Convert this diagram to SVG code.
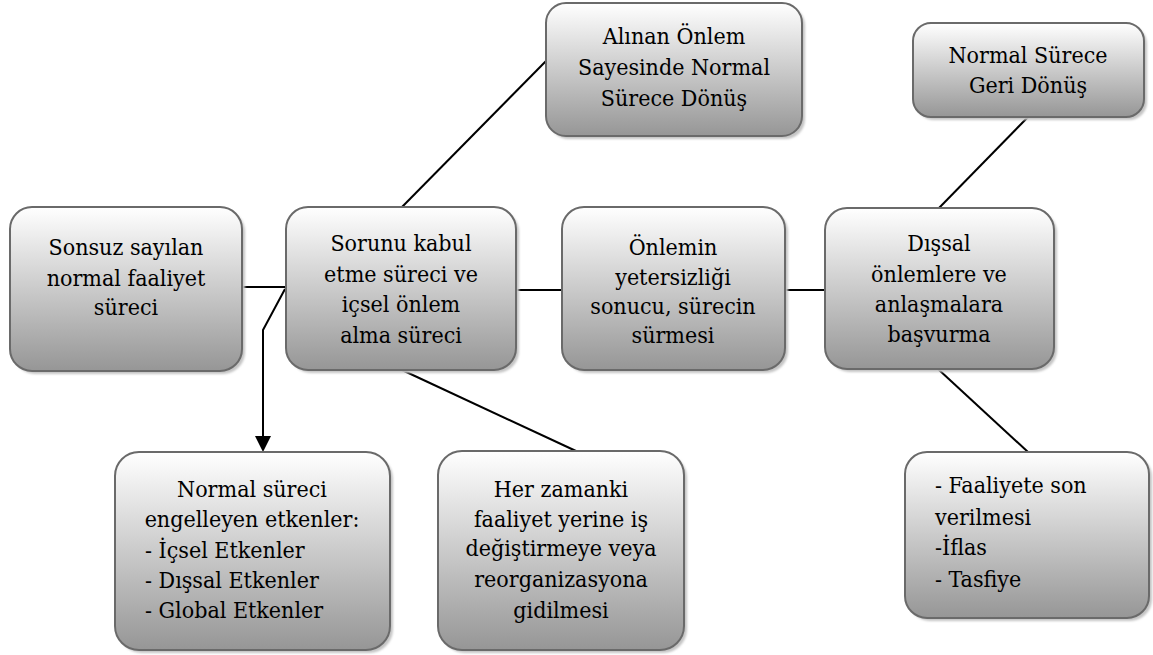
<svg xmlns="http://www.w3.org/2000/svg" width="1153" height="655" viewBox="0 0 1153 655">
<style>
.box{fill:url(#g);stroke:#6a6a6a;stroke-width:2}
.sh{fill:#c4c4c4;filter:url(#b)}
.t text{font-family:'DejaVu Serif Condensed','DejaVu Serif',serif;font-stretch:condensed;font-size:23px;fill:#000}
.c{text-anchor:middle}
.ln{stroke:#000;stroke-width:2;fill:none}
</style>
<defs>
<linearGradient id="g" x1="0" y1="0" x2="0" y2="1">
<stop offset="0" stop-color="#ffffff"/>
<stop offset="1" stop-color="#969696"/>
</linearGradient>
<filter id="b" x="-5%" y="-5%" width="110%" height="110%"><feGaussianBlur stdDeviation="1"/></filter>
</defs>
<rect width="1153" height="655" fill="#fff"/>
<g id="connectors">
<line class="ln" x1="242" y1="287" x2="286" y2="287"/>
<polyline class="ln" points="285,289 263,330 263,438"/>
<polygon points="255,436 271,436 263,452" fill="#000"/>
<line class="ln" x1="402" y1="207" x2="547" y2="60"/>
<line class="ln" x1="402" y1="370" x2="576" y2="451"/>
<line class="ln" x1="516" y1="290" x2="562" y2="290"/>
<line class="ln" x1="785" y1="290" x2="825" y2="290"/>
<line class="ln" x1="939" y1="208" x2="1028" y2="117"/>
<line class="ln" x1="938" y1="369" x2="1028" y2="452"/>
</g>
<g class="t">
<g id="n1">
<rect class="sh" x="13" y="210" width="232" height="164" rx="22"/>
<rect class="box" x="10" y="207" width="232" height="164" rx="22"/>
<text class="c" x="126" y="255">Sonsuz sayılan</text>
<text class="c" x="126" y="286">normal faaliyet</text>
<text class="c" x="126" y="315">süreci</text>
</g>
<g id="n2">
<rect class="sh" x="289" y="210" width="230" height="163" rx="22"/>
<rect class="box" x="286" y="207" width="230" height="163" rx="22"/>
<text class="c" x="401" y="251">Sorunu kabul</text>
<text class="c" x="401" y="282">etme süreci ve</text>
<text class="c" x="401" y="312">içsel önlem</text>
<text class="c" x="401" y="343">alma süreci</text>
</g>
<g id="n3">
<rect class="sh" x="565" y="210" width="223" height="163" rx="22"/>
<rect class="box" x="562" y="207" width="223" height="163" rx="22"/>
<text class="c" x="673" y="255">Önlemin</text>
<text class="c" x="673" y="285">yetersizliği</text>
<text class="c" x="673" y="314">sonucu, sürecin</text>
<text class="c" x="673" y="343">sürmesi</text>
</g>
<g id="n4">
<rect class="sh" x="828" y="211" width="229" height="161" rx="22"/>
<rect class="box" x="825" y="208" width="229" height="161" rx="22"/>
<text class="c" x="939" y="251">Dışsal</text>
<text class="c" x="939" y="282">önlemlere ve</text>
<text class="c" x="939" y="312">anlaşmalara</text>
<text class="c" x="939" y="342">başvurma</text>
</g>
<g id="n5">
<rect class="sh" x="549" y="6" width="256" height="133" rx="20"/>
<rect class="box" x="546" y="3" width="256" height="133" rx="20"/>
<text class="c" x="674" y="44">Alınan Önlem</text>
<text class="c" x="674" y="75">Sayesinde Normal</text>
<text class="c" x="674" y="106">Sürece Dönüş</text>
</g>
<g id="n6">
<rect class="sh" x="916" y="26" width="231" height="94" rx="18"/>
<rect class="box" x="913" y="23" width="231" height="94" rx="18"/>
<text class="c" x="1028" y="63">Normal Sürece</text>
<text class="c" x="1028" y="93">Geri Dönüş</text>
</g>
<g id="n7">
<rect class="sh" x="118" y="455" width="275" height="198" rx="24"/>
<rect class="box" x="115" y="452" width="275" height="198" rx="24"/>
<text class="c" x="252" y="497">Normal süreci</text>
<text class="c" x="252" y="527">engelleyen etkenler:</text>
<text x="145" y="558">- İçsel Etkenler</text>
<text x="145" y="588">- Dışsal Etkenler</text>
<text x="145" y="618">- Global Etkenler</text>
</g>
<g id="n8">
<rect class="sh" x="441" y="454" width="246" height="199" rx="24"/>
<rect class="box" x="438" y="451" width="246" height="199" rx="24"/>
<text class="c" x="561" y="497">Her zamanki</text>
<text class="c" x="561" y="527">faaliyet yerine iş</text>
<text class="c" x="561" y="556">değiştirmeye veya</text>
<text class="c" x="561" y="587">reorganizasyona</text>
<text class="c" x="561" y="618">gidilmesi</text>
</g>
<g id="n9">
<rect class="sh" x="908" y="455" width="244" height="166" rx="22"/>
<rect class="box" x="905" y="452" width="244" height="166" rx="22"/>
<text x="935" y="493">- Faaliyete son</text>
<text x="935" y="525">verilmesi</text>
<text x="935" y="555">-İflas</text>
<text x="935" y="587">- Tasfiye</text>
</g>
</g>
</svg>
